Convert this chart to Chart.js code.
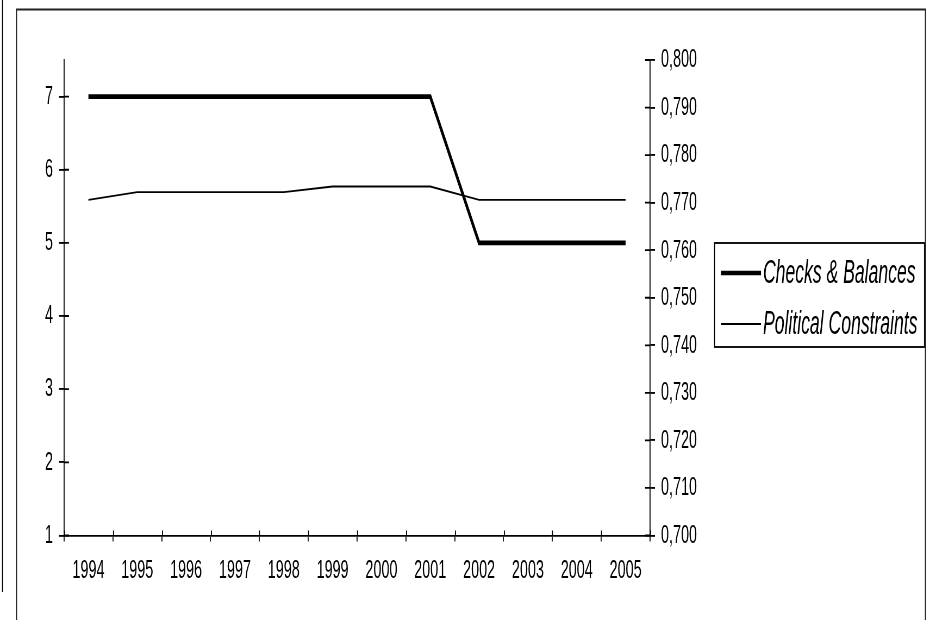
<!DOCTYPE html>
<html>
<head>
<meta charset="utf-8">
<script src="https://cdn.jsdelivr.net/npm/chart.js@4.4.1/dist/chart.umd.min.js"></script>
<style>
  html, body { margin: 0; padding: 0; background: #fff; overflow: hidden; }
</style>
</head>
<body>
<canvas id="c" width="930" height="337" style="display:block;width:930px;height:620px;"></canvas>
<script>
// Series and tick values
const years = ['1994', '1995', '1996', '1997', '1998', '1999', '2000', '2001', '2002', '2003', '2004', '2005'];
const checksBalances = [7, 7, 7, 7, 7, 7, 7, 7, 5, 5, 5, 5];
const politicalConstraints = [0.7706, 0.7722, 0.7722, 0.7722, 0.7722, 0.7734, 0.7734, 0.7734, 0.7706, 0.7706, 0.7706, 0.7706];
const leftTicks = [1, 2, 3, 4, 5, 6, 7];
const rightTicks = [0.700, 0.710, 0.720, 0.730, 0.740, 0.750, 0.760, 0.770, 0.780, 0.790, 0.800];
const seriesNames = ['Checks & Balances', 'Political Constraints'];

// The chart is laid out in a short logical space and shown stretched vertically
const CSS_H = 620;
const LOG_H = 337;
const SY = CSS_H / LOG_H;

const FONT = "'Liberation Sans', Arial, sans-serif";
Chart.defaults.font.family = FONT;
Chart.defaults.color = '#000';

const INNER_TICK = 5;
const AXIS_BOTTOM = 535.5 / SY;

const decorations = {
  id: 'decorations',
  afterDraw(chart) {
    const ctx = chart.ctx;
    const area = chart.chartArea;
    ctx.save();
    ctx.strokeStyle = '#000';
    ctx.lineWidth = 1;

    // page rule at the far left
    ctx.beginPath();
    ctx.moveTo(2.5, 0);
    ctx.lineTo(2.5, 592 / SY);
    ctx.stroke();

    // chart frame
    ctx.strokeStyle = '#222';
    ctx.lineWidth = 1.2;
    ctx.beginPath();
    ctx.moveTo(16.5, LOG_H + 5);
    ctx.lineTo(16.5, 9.5 / SY);
    ctx.lineTo(925.5, 9.5 / SY);
    ctx.lineTo(925.5, LOG_H + 5);
    ctx.stroke();

    // tick marks crossing into the plot area
    ctx.strokeStyle = '#000';
    ctx.lineWidth = 1;
    const yL = chart.scales.y, yR = chart.scales.y1, xs = chart.scales.x;
    ctx.beginPath();
    yL.ticks.forEach(t => {
      const p = yL.getPixelForValue(t.value);
      ctx.moveTo(area.left, p);
      ctx.lineTo(area.left + INNER_TICK, p);
    });
    yR.ticks.forEach(t => {
      const p = yR.getPixelForValue(t.value);
      ctx.moveTo(area.right, p);
      ctx.lineTo(area.right - INNER_TICK, p);
    });
    const step = xs.getPixelForTick(1) - xs.getPixelForTick(0);
    for (let i = 0; i <= years.length; i++) {
      const x = Math.round(xs.getPixelForTick(0) - step / 2 + i * step) + 0.5;
      ctx.moveTo(x, area.bottom);
      ctx.lineTo(x, area.bottom - INNER_TICK / SY);
    }
    ctx.stroke();

    // legend box
    const bx = 714.5, by = 243 / SY, bw = 210, bh = 104 / SY;
    ctx.fillStyle = '#fff';
    ctx.fillRect(bx, by, bw, bh);
    ctx.strokeStyle = '#000';
    ctx.lineWidth = 1;
    ctx.strokeRect(bx, by, bw, bh);

    const rows = [273 / SY, 324 / SY];
    ctx.font = 'italic 17.6px ' + FONT;
    ctx.textBaseline = 'middle';
    ctx.textAlign = 'left';
    ctx.fillStyle = '#000';
    chart.data.datasets.forEach((ds, i) => {
      ctx.lineWidth = ds.borderWidth;
      ctx.beginPath();
      ctx.moveTo(721, rows[i]);
      ctx.lineTo(761, rows[i]);
      ctx.stroke();
      ctx.fillText(ds.label, 763, rows[i] + 0.5);
    });
    ctx.restore();
  }
};

new Chart(document.getElementById('c'), {
  type: 'line',
  data: {
    labels: years,
    datasets: [
      {
        label: seriesNames[0],
        data: checksBalances,
        yAxisID: 'y',
        borderColor: '#000',
        borderWidth: 2.5,
        pointRadius: 0,
        tension: 0,
        fill: false
      },
      {
        label: seriesNames[1],
        data: politicalConstraints,
        yAxisID: 'y1',
        borderColor: '#000',
        borderWidth: 1,
        pointRadius: 0,
        tension: 0,
        fill: false
      }
    ]
  },
  options: {
    responsive: false,
    animation: false,
    devicePixelRatio: SY,
    layout: { padding: { top: 60 / SY, left: 0, right: 0, bottom: 0 } },
    plugins: { legend: { display: false }, tooltip: { enabled: false } },
    scales: {
      x: {
        type: 'category',
        offset: true,
        grid: { offset: true, drawOnChartArea: false, tickLength: 6 / SY, color: '#000', lineWidth: 1 },
        border: { display: true, color: '#000', width: 1 },
        ticks: { font: { size: 14.4 }, padding: 7.4, maxRotation: 0, autoSkip: false },
        afterFit(s) { s.height = LOG_H - AXIS_BOTTOM; }
      },
      y: {
        position: 'left',
        min: 1,
        max: 7.5,
        afterBuildTicks(s) { s.ticks = leftTicks.map(v => ({ value: v })); },
        grid: { drawOnChartArea: false, tickLength: 5, color: '#000', lineWidth: 1 },
        border: { display: true, color: '#000', width: 1 },
        ticks: { font: { size: 14.4 }, padding: 6 },
        afterFit(s) { s.width = 64; }
      },
      y1: {
        position: 'right',
        min: 0.7,
        max: 0.8,
        afterBuildTicks(s) { s.ticks = rightTicks.map(v => ({ value: v })); },
        grid: { drawOnChartArea: false, tickLength: 5, color: '#000', lineWidth: 1 },
        border: { display: true, color: '#000', width: 1 },
        ticks: {
          font: { size: 14.4 },
          padding: 6,
          callback: v => Number(v).toFixed(3).replace('.', ',')
        },
        afterFit(s) { s.width = 930 - 650; }
      }
    }
  },
  plugins: [decorations]
});
</script>
</body>
</html>
